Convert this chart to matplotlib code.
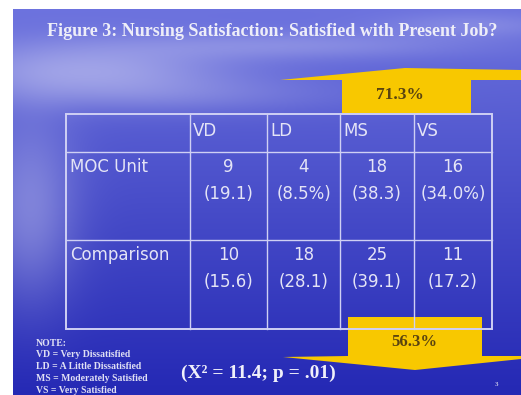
import numpy as np
import matplotlib.pyplot as plt
from matplotlib.patches import Polygon, Rectangle

# table contents
columns = ["VD", "LD", "MS", "VS"]
row_names = ["MOC Unit", "Comparison"]
moc_counts = [9, 4, 18, 16]
moc_pct = ["(19.1)", "(8.5%)", "(38.3)", "(34.0%)"]
cmp_counts = [10, 18, 25, 11]
cmp_pct = ["(15.6)", "(28.1)", "(39.1)", "(17.2)"]

# callouts: share satisfied (MS + VS)
moc_satisfied = "71.3%"
cmp_satisfied = "56.3%"
stat_text = "(X\u00b2 = 11.4; p = .01)"
notes = ["NOTE:", "VD = Very Dissatisfied", "LD = A Little Dissatisfied",
         "MS = Moderately Satisfied", "VS = Very Satisfied"]

W, H = 521, 395
fig = plt.figure(figsize=(W / 100, H / 100), dpi=100)
ax = fig.add_axes([0, 0, 1, 1])
ax.set_xlim(0, W)
ax.set_ylim(H, 0)
ax.axis("off")

# sky / sea backdrop
x0, y0 = 13, 9
yy, xx = np.mgrid[y0:H, x0:W].astype(float)
t = (yy - y0) / (H - y0)
top = np.array([108, 114, 222]) / 255
bot = np.array([36, 40, 180]) / 255
img = top[None, None, :] * (1 - t[..., None]) + bot[None, None, :] * t[..., None]


def blob(cx, cy, sx, sy, amp):
    return amp * np.exp(-((xx - cx) / sx) ** 2 - ((yy - cy) / sy) ** 2)


haze = (blob(90, 70, 140, 30, 0.45) + blob(300, 45, 170, 14, 0.25)
        + blob(470, 25, 90, 12, 0.2) + blob(30, 210, 45, 90, 0.35)
        + blob(200, 95, 160, 18, 0.15))
haze = np.clip(haze, 0, 0.75)[..., None]
white = np.array([232, 232, 250]) / 255
img = img * (1 - haze) + white[None, None, :] * haze
ax.imshow(img, extent=(x0, W, H, y0), aspect="auto", zorder=0, interpolation="bilinear")

ax.text(272, 32, "Figure 3: Nursing Satisfaction: Satisfied with Present Job?",
        ha="center", va="center", color="#eeeef8", fontsize=13,
        family="Liberation Serif", weight="bold", zorder=5)

gold = "#f8c800"
# upward arrow over MS/VS of the MOC row
ax.add_patch(Polygon([(342, 113), (342, 80), (280, 80), (405, 68), (521, 70),
                      (521, 80), (471, 80), (471, 113)],
                     closed=True, fc=gold, ec="none", zorder=2))
ax.text(400, 95, moc_satisfied, ha="center", va="center", color="#5a4410",
        fontsize=12.5, family="Liberation Serif", weight="bold", zorder=5)

# downward arrow under MS/VS of the comparison row
ax.add_patch(Polygon([(348, 317), (482, 317), (482, 356), (521, 356), (521, 359),
                      (415, 370), (283, 357), (348, 356)],
                     closed=True, fc=gold, ec="none", zorder=2))
ax.text(414, 342, cmp_satisfied, ha="center", va="center", color="#5a4410",
        fontsize=12, family="Liberation Serif", weight="bold", zorder=5)

# table grid
col_edges = [66, 190, 267, 340, 414, 492]
row_edges = [114, 152, 240, 329]
line_col = "#cfd0f4"
ax.add_patch(Rectangle((col_edges[0], row_edges[0]), col_edges[-1] - col_edges[0],
                       row_edges[-1] - row_edges[0], fill=False, ec=line_col, lw=1.4, zorder=3))
for cx in col_edges[1:-1]:
    ax.plot([cx, cx], [row_edges[0], row_edges[-1]], color=line_col, lw=1.0, zorder=3)
for ry in row_edges[1:-1]:
    ax.plot([col_edges[0], col_edges[-1]], [ry, ry], color=line_col, lw=1.0, zorder=3)

txt = dict(color="#e4e4f6", fontsize=12, family="DejaVu Sans", zorder=5)
for i, name in enumerate(columns):
    ax.text(col_edges[i + 1] + 3, 131, name, ha="left", va="center", **txt)

for r, (name, counts, pcts) in enumerate([(row_names[0], moc_counts, moc_pct),
                                          (row_names[1], cmp_counts, cmp_pct)]):
    ytop = row_edges[r + 1]
    ax.text(70, ytop + 15, name, ha="left", va="center", **txt)
    for i in range(len(columns)):
        cx = (col_edges[i + 1] + col_edges[i + 2]) / 2
        ax.text(cx, ytop + 15, str(counts[i]), ha="center", va="center", **txt)
        ax.text(cx, ytop + 42, pcts[i], ha="center", va="center", **txt)

ax.text(258, 373, stat_text, ha="center", va="center", color="#f0f0fa",
        fontsize=14, family="Liberation Serif", weight="bold", zorder=5)

for k, line in enumerate(notes):
    ax.text(36, 343 + 11.8 * k, line, ha="left", va="center", color="#e0e0f4",
            fontsize=7, family="Liberation Serif", weight="bold", zorder=5)

ax.text(497, 384, "3", ha="center", va="center", color="#c0c0e8",
        fontsize=5, family="Liberation Serif", weight="bold", zorder=5)

fig.savefig("out.png", dpi=100)
